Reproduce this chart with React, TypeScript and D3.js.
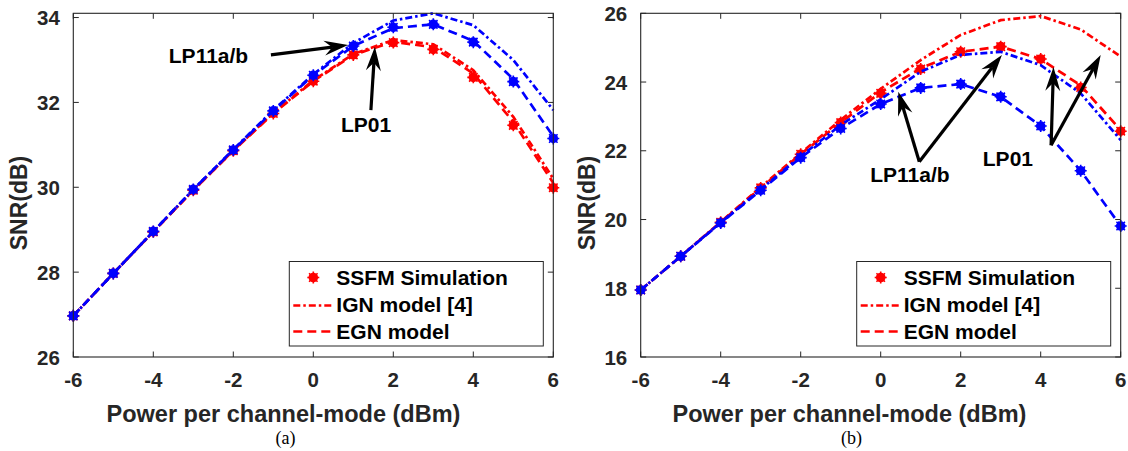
import React from "react";
import * as d3 from "d3";

// ---------- data ----------
const powers = [-6, -5, -4, -3, -2, -1, 0, 1, 2, 3, 4, 5, 6];

// panel (a)
const aLP01Sim = [26.97, 27.97, 28.95, 29.93, 30.86, 31.74, 32.5, 33.12, 33.41, 33.25, 32.59, 31.46, 29.99];
const aLP01IGN = [26.97, 27.97, 28.95, 29.93, 30.87, 31.75, 32.52, 33.14, 33.47, 33.37, 32.76, 31.66, 30.2];
const aLP01EGN = [26.97, 27.97, 28.95, 29.93, 30.86, 31.74, 32.5, 33.12, 33.43, 33.3, 32.68, 31.54, 30.1];
const aLP11Sim = [26.97, 27.97, 28.96, 29.95, 30.88, 31.8, 32.64, 33.33, 33.77, 33.84, 33.42, 32.49, 31.15];
const aLP11IGN = [26.97, 27.97, 28.96, 29.95, 30.89, 31.82, 32.66, 33.4, 33.93, 34.1, 33.82, 33.0, 31.82];
const aLP11EGN = [26.97, 27.97, 28.96, 29.95, 30.88, 31.8, 32.64, 33.33, 33.75, 33.84, 33.45, 32.55, 31.2];

// panel (b)
const bLP01Sim = [17.95, 18.93, 19.92, 20.92, 21.9, 22.82, 23.67, 24.38, 24.88, 25.03, 24.67, 23.84, 22.57];
const bLP01IGN = [17.95, 18.93, 19.93, 20.94, 21.93, 22.9, 23.8, 24.64, 25.37, 25.8, 25.92, 25.53, 24.74];
const bLP01EGN = [17.95, 18.93, 19.92, 20.92, 21.9, 22.82, 23.7, 24.4, 24.88, 25.03, 24.67, 23.9, 22.6];
const bLP11Sim = [17.95, 18.93, 19.9, 20.85, 21.8, 22.65, 23.36, 23.83, 23.94, 23.57, 22.72, 21.42, 19.81];
const bLP11IGN = [17.95, 18.93, 19.91, 20.88, 21.84, 22.75, 23.5, 24.3, 24.79, 24.88, 24.49, 23.67, 22.31];
const bLP11EGN = [17.95, 18.93, 19.9, 20.85, 21.8, 22.65, 23.36, 23.83, 23.94, 23.57, 22.72, 21.42, 19.81];

const xTicks = [-6, -4, -2, 0, 2, 4, 6];
const aYTicks = [26, 28, 30, 32, 34];
const bYTicks = [16, 18, 20, 22, 24, 26];

const legendLabels = ["SSFM Simulation", "IGN model [4]", "EGN model"];
const xLabel = "Power per channel-mode (dBm)";
const yLabel = "SNR(dB)";

// annotations in data coordinates: text [x, y], arrows [[x0,y0],[x1,y1]]
const aAnnot = [
  { text: "LP11a/b", at: [-2.62, 32.93], arrows: [[[-1.06, 33.12], [0.87, 33.35]]] },
  { text: "LP01", at: [1.32, 31.3], arrows: [[[1.44, 31.82], [1.54, 33.31]]] },
];
const bAnnot = [
  { text: "LP11a/b", at: [0.73, 21.09], arrows: [[[0.965, 21.68], [0.44, 23.72]], [[0.965, 21.68], [3.03, 24.79]]] },
  { text: "LP01", at: [3.18, 21.56], arrows: [[[4.26, 22.16], [4.32, 24.44]], [[4.26, 22.16], [5.5, 24.79]]] },
];

const RED = "#ff0000";
const BLUE = "#0000ff";
const AX = "#262626";
const FONT = "'Liberation Sans', Arial, Helvetica, sans-serif";
const DASHDOT = "7,3,2.5,3";
const DASHED = "9,5";

function Marker({ x, y, color }: { x: number; y: number; color: string }) {
  const r = 6;
  const arms = [0, 45, 90, 135].map((a) => {
    const t = (a * Math.PI) / 180;
    return [Math.cos(t) * r, Math.sin(t) * r];
  });
  return (
    <g transform={`translate(${x},${y})`}>
      <circle r={4.8} fill={color} />
      {arms.map(([dx, dy], i) => (
        <line key={i} x1={-dx} y1={-dy} x2={dx} y2={dy} stroke={color} strokeWidth={1.6} />
      ))}
    </g>
  );
}

function Arrow({ x0, y0, x1, y1 }: { x0: number; y0: number; x1: number; y1: number }) {
  const ang = Math.atan2(y1 - y0, x1 - x0);
  const L = 24;
  const W = 7.5;
  const notch = 8;
  const cos = Math.cos(ang);
  const sin = Math.sin(ang);
  const pt = (along: number, perp: number) => [x1 + cos * along - sin * perp, y1 + sin * along + cos * perp];
  const p1 = pt(-L, W);
  const p2 = pt(-L + notch, 0);
  const p3 = pt(-L, -W);
  const lx = x1 - cos * (L - notch);
  const ly = y1 - sin * (L - notch);
  return (
    <g>
      <line x1={x0} y1={y0} x2={lx} y2={ly} stroke="#000" strokeWidth={3.2} />
      <path d={`M${x1},${y1}L${p1[0]},${p1[1]}L${p2[0]},${p2[1]}L${p3[0]},${p3[1]}Z`} fill="#000" />
    </g>
  );
}

type PanelProps = {
  x0: number;
  yDomain: [number, number];
  yTicks: number[];
  lp01: number[][];
  lp11: number[][];
  annot: { text: string; at: number[]; arrows: number[][][] }[];
  xLabelCenter: number;
  caption: string;
};

function Panel({ x0, yDomain, yTicks, lp01, lp11, annot, xLabelCenter, caption }: PanelProps) {
  const top = 13.3;
  const bottom = 357;
  const width = 480;
  const x = d3.scaleLinear().domain([-6, 6]).range([x0, x0 + width]);
  const y = d3.scaleLinear().domain(yDomain).range([bottom, top]);
  const line = d3
    .line<number>()
    .x((_, i) => x(powers[i]))
    .y((d) => y(d));
  const tl = 5.5;

  const series = (vals: number[][], color: string, key: string) => (
    <g key={key}>
      <path d={line(vals[1]) || ""} fill="none" stroke={color} strokeWidth={2.7} strokeDasharray={DASHDOT} />
      <path d={line(vals[2]) || ""} fill="none" stroke={color} strokeWidth={2.7} strokeDasharray={DASHED} />
      {vals[0].map((v, i) => (
        <Marker key={i} x={x(powers[i])} y={y(v)} color={color} />
      ))}
    </g>
  );

  const lgX = x0 + width - 10 - 254;
  const lgY = bottom - 11 - 84.5;

  return (
    <g>
      <rect x={x0} y={top} width={width} height={bottom - top} fill="#fff" />
      <defs>
        <clipPath id={`clip${x0}`}>
          <rect x={x0 - 8} y={top - 2} width={width + 16} height={bottom - top + 4} />
        </clipPath>
      </defs>
      {/* ticks */}
      {xTicks.map((t) => (
        <g key={"xt" + t}>
          <line x1={x(t)} x2={x(t)} y1={bottom} y2={bottom - tl} stroke={AX} strokeWidth={1} />
          <line x1={x(t)} x2={x(t)} y1={top} y2={top + tl} stroke={AX} strokeWidth={1} />
          <text x={x(t)} y={379} textAnchor="middle" dominantBaseline="central" fontFamily={FONT} fontWeight="bold" fontSize={20.5} fill={AX}>
            {t}
          </text>
        </g>
      ))}
      {yTicks.map((t) => (
        <g key={"yt" + t}>
          <line x1={x0} x2={x0 + tl} y1={y(t)} y2={y(t)} stroke={AX} strokeWidth={1} />
          <line x1={x0 + width} x2={x0 + width - tl} y1={y(t)} y2={y(t)} stroke={AX} strokeWidth={1} />
          <text x={x0 - 13.5} y={y(t)} textAnchor="end" dominantBaseline="central" fontFamily={FONT} fontWeight="bold" fontSize={20.5} fill={AX}>
            {t}
          </text>
        </g>
      ))}
      <g clipPath={`url(#clip${x0})`}>
        {series(lp01, RED, "r")}
        {series(lp11, BLUE, "b")}
      </g>
      <rect x={x0} y={top} width={width} height={bottom - top} fill="none" stroke={AX} strokeWidth={1.1} />
      {/* annotations */}
      {annot.map((a, i) => (
        <g key={"an" + i}>
          {a.arrows.map((ar, j) => (
            <Arrow key={j} x0={x(ar[0][0])} y0={y(ar[0][1])} x1={x(ar[1][0])} y1={y(ar[1][1])} />
          ))}
          <text x={x(a.at[0])} y={y(a.at[1])} textAnchor="middle" fontFamily={FONT} fontWeight="bold" fontSize={21} fill="#000">
            {a.text}
          </text>
        </g>
      ))}
      {/* legend */}
      <g>
        <rect x={lgX} y={lgY} width={254} height={84.5} fill="#fff" stroke={AX} strokeWidth={1} />
        <Marker x={lgX + 24} y={lgY + 16} color={RED} />
        <line x1={lgX + 4} x2={lgX + 44} y1={lgY + 44} y2={lgY + 44} stroke={RED} strokeWidth={2.7} strokeDasharray={DASHDOT} />
        <line x1={lgX + 4} x2={lgX + 44} y1={lgY + 70} y2={lgY + 70} stroke={RED} strokeWidth={2.7} strokeDasharray={DASHED} />
        {legendLabels.map((l, i) => (
          <text key={l} x={lgX + 47} y={lgY + 16 + i * 27} dominantBaseline="central" fontFamily={FONT} fontWeight="bold" fontSize={21} fill="#000">
            {l}
          </text>
        ))}
      </g>
      {/* axis labels */}
      <text x={xLabelCenter} y={422} textAnchor="middle" fontFamily={FONT} fontWeight="bold" fontSize={23.5} fill={AX}>
        {xLabel}
      </text>
      <text
        transform={`translate(${x0 - 46},203) rotate(-90)`}
        textAnchor="middle"
        fontFamily={FONT}
        fontWeight="bold"
        fontSize={23}
        fill={AX}
      >
        {yLabel}
      </text>
      <text x={xLabelCenter + 2} y={444} textAnchor="middle" fontFamily="'Liberation Serif', 'Times New Roman', serif" fontSize={18} fill="#000">
        {caption}
      </text>
    </g>
  );
}

export default function App() {
  return (
    <svg width={1128} height={451} style={{ position: "absolute", left: 0, top: 0, background: "#fff" }}>
      <rect width={1128} height={451} fill="#fff" />
      <Panel
        x0={73.3}
        yDomain={[26, 34.1]}
        yTicks={aYTicks}
        lp01={[aLP01Sim, aLP01IGN, aLP01EGN]}
        lp11={[aLP11Sim, aLP11IGN, aLP11EGN]}
        annot={aAnnot}
        xLabelCenter={283.5}
        caption="(a)"
      />
      <Panel
        x0={640.7}
        yDomain={[16, 26]}
        yTicks={bYTicks}
        lp01={[bLP01Sim, bLP01IGN, bLP01EGN]}
        lp11={[bLP11Sim, bLP11IGN, bLP11EGN]}
        annot={bAnnot}
        xLabelCenter={849.5}
        caption="(b)"
      />
    </svg>
  );
}
